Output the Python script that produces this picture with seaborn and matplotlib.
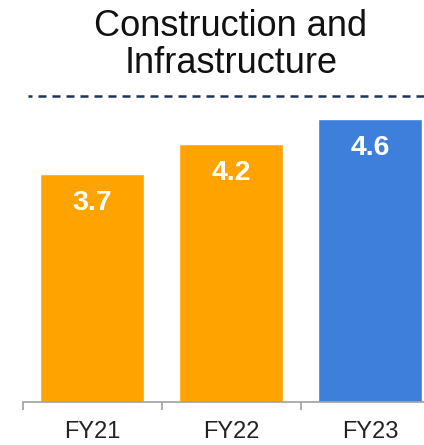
import matplotlib
matplotlib.use("Agg")
import matplotlib.pyplot as plt
import seaborn as sns
import pandas as pd

categories = ["FY21", "FY22", "FY23"]
values = [3.7, 4.2, 4.6]
bar_colors = ["#FFA300", "#FFA300", "#3E7FDB"]
title_lines = ["Construction and", "Infrastructure"]

sns.set_theme(style="white")
plt.rcParams['font.family'] = ['Liberation Sans', 'DejaVu Sans']

df = pd.DataFrame({"cat": categories, "val": values})

fig = plt.figure(figsize=(4.24, 4.45), dpi=100)
ax = fig.add_axes([22.5/424, 43/445, 417/424, 307.5/445])
sns.barplot(data=df, x="cat", y="val", hue="cat", palette=bar_colors,
            width=0.755, saturation=1, legend=False, ax=ax)
ax.set_xlim(-0.5, 2.5)
ax.set_ylim(0, 5)

for i, v in enumerate(values):
    ax.annotate(f"{v}", (i, v), xytext=(0, -29), textcoords="offset pixels",
                ha="center", va="center", color="white", fontsize=20.5,
                fontweight="bold")

ax.axhline(4.98, xmin=5.8/417, xmax=1, color="#1A3556", lw=1.8,
           linestyle=(1.6, (3.2, 2.4)), clip_on=False)

for s in ["top", "right", "left"]:
    ax.spines[s].set_visible(False)
ax.spines["bottom"].set_color("#A0A0A0")
ax.spines["bottom"].set_linewidth(1.2)
ax.set_yticks([])
ax.set_xticks(range(len(categories)))
ax.set_xticklabels(categories)
ax.tick_params(axis="x", which="major", bottom=True, length=0, pad=14,
               labelsize=17, labelcolor="#222222")
ax.set_xticks([-0.5, 0.5, 1.5, 2.5], minor=True)
ax.tick_params(axis="x", which="minor", bottom=True, length=5.5, width=1.2,
               color="#A0A0A0", direction="out")
ax.set_xlabel("")
ax.set_ylabel("")

cx = (22.5 + 417/2)/424
for line, ybase in zip(title_lines, [36, 73]):
    fig.text(cx, 1 - ybase/445, line, ha="center", va="baseline",
             fontsize=26, color="#111111")

fig.savefig("out.png", dpi=100)
